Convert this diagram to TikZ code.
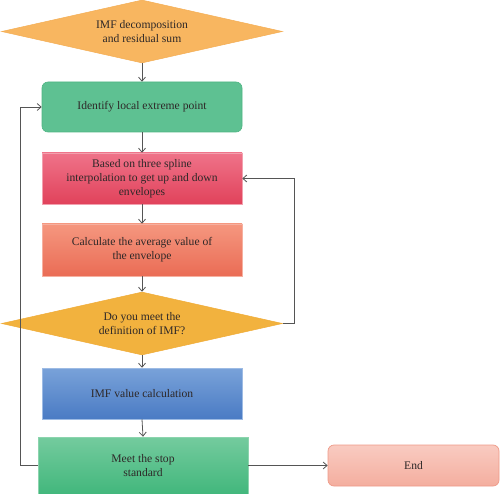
\documentclass[tikz,border=0pt]{standalone}
\usepackage{fontspec}
\setmainfont{Liberation Serif}
\usetikzlibrary{shapes.geometric,arrows.meta}
\definecolor{txt}{HTML}{2E2828}
\definecolor{ln}{HTML}{555555}
\definecolor{dAf}{HTML}{F8B660}\definecolor{dAd}{HTML}{F4AE55}
\definecolor{gAf}{HTML}{5EC192}\definecolor{gAd}{HTML}{4FB583}
\definecolor{rT}{HTML}{EF7389}\definecolor{rB}{HTML}{E1425B}\definecolor{rD}{HTML}{F2A0AE}
\definecolor{sT}{HTML}{F5977F}\definecolor{sB}{HTML}{EA6C55}\definecolor{sD}{HTML}{F6B0A0}
\definecolor{dBf}{HTML}{F2B23E}\definecolor{dBd}{HTML}{F0AC38}
\definecolor{bT}{HTML}{79A2D9}\definecolor{bB}{HTML}{4A7BC4}\definecolor{bD}{HTML}{9DBBE4}
\definecolor{gT}{HTML}{74CB9E}\definecolor{gB}{HTML}{42B77C}\definecolor{gD}{HTML}{8CD4AE}
\definecolor{eT}{HTML}{F9CBC1}\definecolor{eB}{HTML}{F4AE9F}\definecolor{eD}{HTML}{EE9A88}
\begin{document}
\begin{tikzpicture}[x=1pt,y=-1pt,
  every node/.style={font=\fontsize{11.6}{14}\selectfont, text=txt, align=center, inner sep=0pt},
  boxnode/.style={rectangle, minimum width=200pt, minimum height=51pt},
  dia/.style={diamond, minimum width=281pt, minimum height=63pt, aspect=4.46},
  arr/.style={draw=ln, line width=0.8pt, -{Straight Barb[length=4pt,width=7pt]}},
  lnk/.style={draw=ln, line width=0.8pt}]
\useasboundingbox (0,0) rectangle (500,494);

\node[dia, fill=dAf, draw=dAd, line width=0.5pt] (d1) at (142,31.5) {IMF decomposition\\and residual sum};
\node[boxnode, minimum height=50pt, rounded corners=6pt, fill=gAf, draw=gAd, line width=0.6pt] (g1) at (142,107) {Identify local extreme point};
\node[boxnode, top color=rT, bottom color=rB, draw=rD, line width=0.5pt] (r1) at (142,178.5) {Based on three spline\\interpolation to get up and down\\envelopes};
\node[boxnode, minimum height=52pt, top color=sT, bottom color=sB, draw=sD, line width=0.5pt] (s1) at (142,250) {Calculate the average value of\\the envelope};
\node[dia, fill=dBf, draw=dBd, line width=0.5pt] (d2) at (142,323.5) {Do you meet the\\definition of IMF?};
\node[boxnode, top color=bT, bottom color=bB, draw=bD, line width=0.5pt] (b1) at (142,393.5) {IMF value calculation};
\node[boxnode, minimum width=210pt, minimum height=57pt, top color=gT, bottom color=gB, draw=gD, line width=0.5pt] (g2) at (143,465.5) {Meet the stop\\standard};
\node[rectangle, minimum width=171pt, minimum height=41pt, rounded corners=6pt, top color=eT, bottom color=eB, draw=eD, line width=0.7pt] (end) at (413.5,465.5) {End};

\coordinate (loopR) at (294,0);
\coordinate (loopL) at (20,0);

\draw[arr] (d1.south) -- (g1.north);
\draw[arr] (g1.south) -- (r1.north);
\draw[arr] (r1.south) -- (s1.north);
\draw[arr] (s1.south) -- (d2.north);
\draw[arr] (d2.south) -- (b1.north);
\draw[arr] (b1.south) -- (g2.north);
\draw[arr] (d2.east) -- (loopR |- d2.east) |- (r1.east);
\draw[arr] (g2.west) -- (loopL |- g2.west) |- (g1.west);
\draw[arr] (g2.east) -- (end.west);
\end{tikzpicture}
\end{document}
